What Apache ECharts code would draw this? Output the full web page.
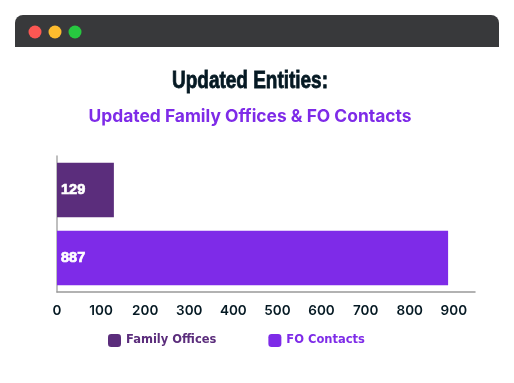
<!DOCTYPE html>
<html>
<head>
<meta charset="utf-8">
<style>
html,body{margin:0;padding:0;background:#fff;}
#chart{width:514px;height:383px;}
</style>
<script src="https://cdn.jsdelivr.net/npm/echarts@6/dist/echarts.min.js"></script>
</head>
<body>
<div id="chart"></div>
<script>
var categories = ['Family Offices', 'FO Contacts'];
var familyOffices = [129, null];
var foContacts = [null, 887];
var ticks = [0, 100, 200, 300, 400, 500, 600, 700, 800, 900];

var chart = echarts.init(document.getElementById('chart'));

// white value label inside the bar
function barLabel(){
	return {
		show: true,
		position: 'insideLeft',
		distance: 4,
		color: '#fff',
		fontFamily: '"Liberation Sans"',
		fontWeight: 'bold',
		fontSize: 14.5,
		textBorderColor: '#fff',
		textBorderWidth: 0.7
	};
}

chart.setOption({
	animation: false,
	title: {
		text: 'Updated Family Offices & FO Contacts',
		left: 245,
		top: 103,
		textAlign: 'center',
		textStyle: {color: '#7e2be8', fontFamily: 'Inter', fontWeight: 'bold', fontSize: 17.4}
	},
	legend: {
		left: 103,
		top: 329,
		itemWidth: 13,
		itemHeight: 13,
		itemGap: 52,
		icon: 'roundRect',
		data: [
			{name: 'Family Offices', textStyle: {color: '#5b2d7c'}},
			{name: 'FO Contacts', textStyle: {color: '#7e2be8'}}
		],
		textStyle: {fontFamily: '"DejaVu Sans"', fontWeight: 'bold', fontSize: 11.5}
	},
	grid: {left: 57, top: 156, width: 418, height: 136},
	xAxis: {
		type: 'value',
		min: 0,
		max: 948,
		interval: 100,
		splitLine: {show: false},
		axisTick: {show: false},
		axisLine: {show: true, lineStyle: {color: '#999', width: 1.5}},
		axisLabel: {
			color: '#051923',
			fontFamily: 'Inter',
			fontWeight: 600,
			fontSize: 13.5,
			margin: 12,
			showMaxLabel: false,
			formatter: function(v){ return ticks.indexOf(v) > -1 ? v : ''; }
		}
	},
	yAxis: {
		type: 'category',
		inverse: true,
		data: categories,
		axisTick: {show: false},
		axisLabel: {show: false},
		axisLine: {show: true, lineStyle: {color: '#aaa', width: 1.5}}
	},
	series: [{
		name: 'Family Offices',
		type: 'bar',
		stack: 'total',
		barWidth: '80%',
		data: familyOffices,
		itemStyle: {color: '#5b2d7c'},
		label: barLabel()
	}, {
		name: 'FO Contacts',
		type: 'bar',
		stack: 'total',
		barWidth: '80%',
		data: foContacts,
		itemStyle: {color: '#7e2be8'},
		label: barLabel()
	}],
	graphic: [
		{type: 'rect', shape: {x: 15, y: 15, width: 484, height: 32, r: [8, 8, 0, 0]}, style: {fill: '#38393b'}},
		{type: 'circle', shape: {cx: 35, cy: 32, r: 6.5}, style: {fill: '#fc5753'}},
		{type: 'circle', shape: {cx: 55, cy: 32, r: 6.5}, style: {fill: '#fdbc2e'}},
		{type: 'circle', shape: {cx: 75, cy: 32, r: 6.5}, style: {fill: '#27c840'}},
		// no condensed font installed, so the heading is squeezed horizontally
		{
			type: 'text',
			x: 250,
			y: 81,
			scaleX: 0.79,
			style: {
				text: 'Updated Entities:',
				fill: '#051923',
				stroke: '#051923',
				lineWidth: 0.8,
				font: 'bold 24px "Liberation Sans"',
				align: 'center',
				verticalAlign: 'middle'
			}
		}
	]
});
</script>
</body>
</html>
